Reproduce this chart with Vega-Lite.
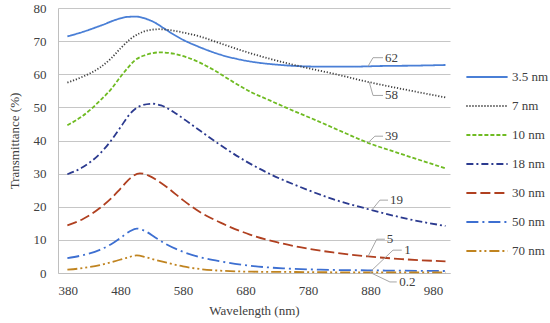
{
  "$schema": "https://vega.github.io/schema/vega-lite/v6.json",
  "width": 392,
  "height": 265,
  "autosize": "none",
  "padding": {"left": 58, "top": 8, "right": 100, "bottom": 50},
  "background": "white",
  "config": {
    "view": {"stroke": null},
    "font": "Liberation Serif, Times New Roman, serif",
    "axis": {"labelFont": "Liberation Serif, Times New Roman, serif", "titleFont": "Liberation Serif, Times New Roman, serif", "labelFontSize": 13, "titleFontSize": 13, "labelColor": "#404040", "titleColor": "#404040", "titleFontWeight": "normal", "tickSize": 0, "domainColor": "#bfbfbf", "labelOverlap": false},
    "legend": {"orient": "none", "legendX": 407, "legendY": 47, "symbolType": "stroke", "symbolSize": 1700, "symbolStrokeWidth": 2, "labelFont": "Liberation Serif, Times New Roman, serif", "labelFontSize": 13, "labelColor": "#404040", "rowPadding": -10, "labelOffset": 3}
  },
  "datasets": {
    "curves": [
      {"s": "3.5 nm", "wl": 395, "t": 71.4}, {"s": "3.5 nm", "wl": 420, "t": 72.8}, {"s": "3.5 nm", "wl": 450, "t": 74.8}, {"s": "3.5 nm", "wl": 475, "t": 76.6}, {"s": "3.5 nm", "wl": 490, "t": 77.3}, {"s": "3.5 nm", "wl": 505, "t": 77.4}, {"s": "3.5 nm", "wl": 520, "t": 76.8}, {"s": "3.5 nm", "wl": 535, "t": 75.6}, {"s": "3.5 nm", "wl": 550, "t": 73.8}, {"s": "3.5 nm", "wl": 565, "t": 72.0}, {"s": "3.5 nm", "wl": 580, "t": 70.4}, {"s": "3.5 nm", "wl": 600, "t": 68.7}, {"s": "3.5 nm", "wl": 620, "t": 67.2}, {"s": "3.5 nm", "wl": 640, "t": 65.9}, {"s": "3.5 nm", "wl": 660, "t": 64.9}, {"s": "3.5 nm", "wl": 680, "t": 64.1}, {"s": "3.5 nm", "wl": 700, "t": 63.5}, {"s": "3.5 nm", "wl": 730, "t": 62.9}, {"s": "3.5 nm", "wl": 760, "t": 62.5}, {"s": "3.5 nm", "wl": 800, "t": 62.3}, {"s": "3.5 nm", "wl": 850, "t": 62.3}, {"s": "3.5 nm", "wl": 900, "t": 62.5}, {"s": "3.5 nm", "wl": 950, "t": 62.6}, {"s": "3.5 nm", "wl": 1000, "t": 62.8},
      {"s": "7 nm", "wl": 395, "t": 57.5}, {"s": "7 nm", "wl": 420, "t": 59.3}, {"s": "7 nm", "wl": 447, "t": 62}, {"s": "7 nm", "wl": 465, "t": 64.8}, {"s": "7 nm", "wl": 480, "t": 67.8}, {"s": "7 nm", "wl": 495, "t": 70.5}, {"s": "7 nm", "wl": 510, "t": 72.3}, {"s": "7 nm", "wl": 525, "t": 73.3}, {"s": "7 nm", "wl": 543, "t": 73.6}, {"s": "7 nm", "wl": 560, "t": 73.3}, {"s": "7 nm", "wl": 580, "t": 72.6}, {"s": "7 nm", "wl": 607, "t": 71.4}, {"s": "7 nm", "wl": 640, "t": 69.3}, {"s": "7 nm", "wl": 680, "t": 66.8}, {"s": "7 nm", "wl": 720, "t": 64.6}, {"s": "7 nm", "wl": 767, "t": 62.4}, {"s": "7 nm", "wl": 820, "t": 60.2}, {"s": "7 nm", "wl": 878, "t": 57.6}, {"s": "7 nm", "wl": 940, "t": 55.2}, {"s": "7 nm", "wl": 1000, "t": 53},
      {"s": "10 nm", "wl": 395, "t": 44.6}, {"s": "10 nm", "wl": 420, "t": 47.5}, {"s": "10 nm", "wl": 447, "t": 52}, {"s": "10 nm", "wl": 465, "t": 55.5}, {"s": "10 nm", "wl": 479, "t": 59}, {"s": "10 nm", "wl": 492, "t": 62}, {"s": "10 nm", "wl": 503, "t": 64.2}, {"s": "10 nm", "wl": 520, "t": 65.8}, {"s": "10 nm", "wl": 543, "t": 66.6}, {"s": "10 nm", "wl": 565, "t": 66.2}, {"s": "10 nm", "wl": 585, "t": 65.2}, {"s": "10 nm", "wl": 607, "t": 63.5}, {"s": "10 nm", "wl": 630, "t": 61.2}, {"s": "10 nm", "wl": 660, "t": 57.7}, {"s": "10 nm", "wl": 690, "t": 54.5}, {"s": "10 nm", "wl": 714, "t": 52.5}, {"s": "10 nm", "wl": 750, "t": 49.5}, {"s": "10 nm", "wl": 794, "t": 46}, {"s": "10 nm", "wl": 840, "t": 42.2}, {"s": "10 nm", "wl": 876, "t": 39.3}, {"s": "10 nm", "wl": 920, "t": 36.5}, {"s": "10 nm", "wl": 954, "t": 34.4}, {"s": "10 nm", "wl": 1000, "t": 31.6},
      {"s": "18 nm", "wl": 395, "t": 29.8}, {"s": "18 nm", "wl": 420, "t": 32}, {"s": "18 nm", "wl": 447, "t": 36}, {"s": "18 nm", "wl": 465, "t": 40}, {"s": "18 nm", "wl": 480, "t": 44}, {"s": "18 nm", "wl": 495, "t": 48}, {"s": "18 nm", "wl": 510, "t": 50.3}, {"s": "18 nm", "wl": 530, "t": 51.1}, {"s": "18 nm", "wl": 545, "t": 50.6}, {"s": "18 nm", "wl": 565, "t": 48.6}, {"s": "18 nm", "wl": 585, "t": 46}, {"s": "18 nm", "wl": 607, "t": 43}, {"s": "18 nm", "wl": 640, "t": 38.6}, {"s": "18 nm", "wl": 680, "t": 33.8}, {"s": "18 nm", "wl": 720, "t": 29.8}, {"s": "18 nm", "wl": 767, "t": 26}, {"s": "18 nm", "wl": 820, "t": 22.3}, {"s": "18 nm", "wl": 882, "t": 19}, {"s": "18 nm", "wl": 940, "t": 16.3}, {"s": "18 nm", "wl": 1000, "t": 14.2},
      {"s": "30 nm", "wl": 395, "t": 14.4}, {"s": "30 nm", "wl": 420, "t": 16.3}, {"s": "30 nm", "wl": 447, "t": 19.6}, {"s": "30 nm", "wl": 465, "t": 22.5}, {"s": "30 nm", "wl": 480, "t": 25.5}, {"s": "30 nm", "wl": 495, "t": 28.5}, {"s": "30 nm", "wl": 511, "t": 30.1}, {"s": "30 nm", "wl": 525, "t": 29.4}, {"s": "30 nm", "wl": 540, "t": 27.8}, {"s": "30 nm", "wl": 555, "t": 25.8}, {"s": "30 nm", "wl": 580, "t": 22}, {"s": "30 nm", "wl": 607, "t": 18.4}, {"s": "30 nm", "wl": 640, "t": 15.2}, {"s": "30 nm", "wl": 687, "t": 11.6}, {"s": "30 nm", "wl": 730, "t": 9.3}, {"s": "30 nm", "wl": 767, "t": 7.8}, {"s": "30 nm", "wl": 820, "t": 6.2}, {"s": "30 nm", "wl": 876, "t": 5}, {"s": "30 nm", "wl": 930, "t": 4.2}, {"s": "30 nm", "wl": 1000, "t": 3.5},
      {"s": "50 nm", "wl": 395, "t": 4.5}, {"s": "50 nm", "wl": 420, "t": 5.4}, {"s": "50 nm", "wl": 447, "t": 7}, {"s": "50 nm", "wl": 465, "t": 8.7}, {"s": "50 nm", "wl": 480, "t": 10.6}, {"s": "50 nm", "wl": 495, "t": 12.6}, {"s": "50 nm", "wl": 506, "t": 13.4}, {"s": "50 nm", "wl": 520, "t": 12.6}, {"s": "50 nm", "wl": 535, "t": 10.8}, {"s": "50 nm", "wl": 554, "t": 8.6}, {"s": "50 nm", "wl": 580, "t": 6.4}, {"s": "50 nm", "wl": 607, "t": 4.8}, {"s": "50 nm", "wl": 640, "t": 3.5}, {"s": "50 nm", "wl": 687, "t": 2.2}, {"s": "50 nm", "wl": 740, "t": 1.4}, {"s": "50 nm", "wl": 800, "t": 1.0}, {"s": "50 nm", "wl": 876, "t": 0.8}, {"s": "50 nm", "wl": 1000, "t": 0.6},
      {"s": "70 nm", "wl": 395, "t": 1.0}, {"s": "70 nm", "wl": 420, "t": 1.5}, {"s": "70 nm", "wl": 447, "t": 2.4}, {"s": "70 nm", "wl": 470, "t": 3.5}, {"s": "70 nm", "wl": 490, "t": 4.6}, {"s": "70 nm", "wl": 506, "t": 5.3}, {"s": "70 nm", "wl": 520, "t": 4.8}, {"s": "70 nm", "wl": 535, "t": 4}, {"s": "70 nm", "wl": 554, "t": 3.1}, {"s": "70 nm", "wl": 580, "t": 2}, {"s": "70 nm", "wl": 607, "t": 1.2}, {"s": "70 nm", "wl": 640, "t": 0.7}, {"s": "70 nm", "wl": 690, "t": 0.4}, {"s": "70 nm", "wl": 760, "t": 0.3}, {"s": "70 nm", "wl": 850, "t": 0.2}, {"s": "70 nm", "wl": 1000, "t": 0.2}
    ],
    "leaders": [
      {"id": "62", "k": 1, "wl": 876, "t": 62.4}, {"id": "62", "k": 2, "wl": 884, "t": 65}, {"id": "62", "k": 3, "wl": 900, "t": 65},
      {"id": "58", "k": 1, "wl": 878, "t": 57.6}, {"id": "58", "k": 2, "wl": 884, "t": 53.6}, {"id": "58", "k": 3, "wl": 900, "t": 53.6},
      {"id": "39", "k": 1, "wl": 876, "t": 39.3}, {"id": "39", "k": 2, "wl": 887, "t": 41.3}, {"id": "39", "k": 3, "wl": 900, "t": 41.3},
      {"id": "19", "k": 1, "wl": 882, "t": 19}, {"id": "19", "k": 2, "wl": 895, "t": 22}, {"id": "19", "k": 3, "wl": 908, "t": 22},
      {"id": "5", "k": 1, "wl": 876, "t": 5}, {"id": "5", "k": 2, "wl": 890, "t": 10.2}, {"id": "5", "k": 3, "wl": 903, "t": 10.2},
      {"id": "1", "k": 1, "wl": 882, "t": 0.8}, {"id": "1", "k": 2, "wl": 916, "t": 6.9}, {"id": "1", "k": 3, "wl": 930, "t": 6.9},
      {"id": "0.2", "k": 1, "wl": 879, "t": 0.2}, {"id": "0.2", "k": 2, "wl": 911, "t": -2.7}, {"id": "0.2", "k": 3, "wl": 922, "t": -2.7}
    ],
    "labels": [
      {"label": "62", "wl": 903, "t": 65}, {"label": "58", "wl": 903, "t": 53.6}, {"label": "39", "wl": 903, "t": 41.3}, {"label": "19", "wl": 911, "t": 22}, {"label": "5", "wl": 906, "t": 10.2}, {"label": "1", "wl": 934, "t": 6.9}, {"label": "0.2", "wl": 926, "t": -2.7}
    ]
  },
  "encoding": {
    "x": {"field": "wl", "type": "quantitative", "scale": {"domain": [380, 1007.2], "nice": false, "zero": false}, "axis": {"values": [380, 480, 580, 680, 780, 880, 980], "grid": false, "title": "Wavelength (nm)", "labelPadding": 11, "titlePadding": 7, "labelOverlap": false}},
    "y": {"field": "t", "type": "quantitative", "scale": {"domain": [0, 80], "nice": false}, "axis": {"values": [0, 10, 20, 30, 40, 50, 60, 70, 80], "grid": true, "gridColor": "#c6c6c6", "gridWidth": 1, "gridOpacity": 1, "title": "Transmittance (%)", "labelPadding": 12, "titlePadding": 12, "labelOverlap": false}}
  },
  "layer": [
    {
      "data": {"name": "curves"},
      "mark": {"type": "line", "strokeWidth": 1.8, "interpolate": "monotone"},
      "encoding": {
        "color": {"field": "s", "type": "nominal", "title": null, "scale": {"domain": ["3.5 nm", "7 nm", "10 nm", "18 nm", "30 nm", "50 nm", "70 nm"], "range": ["#4a7fd6", "#404040", "#6fbb22", "#2b3a8f", "#b04020", "#3d6fd1", "#c08420"]}},
        "strokeDash": {"field": "s", "type": "nominal", "title": null, "scale": {"domain": ["3.5 nm", "7 nm", "10 nm", "18 nm", "30 nm", "50 nm", "70 nm"], "range": [[1, 0], [1.2, 1.8], [4, 2], [7, 3, 2, 3], [10, 4], [12, 4, 2, 4], [10, 3, 2, 3, 2, 3]]}}
      }
    },
    {
      "data": {"name": "leaders"},
      "mark": {"type": "line", "color": "#a6a6a6", "strokeWidth": 1},
      "encoding": {
        "detail": {"field": "id"},
        "order": {"field": "k"}
      }
    },
    {
      "data": {"name": "labels"},
      "mark": {"type": "text", "align": "left", "baseline": "middle", "font": "Liberation Serif, Times New Roman, serif", "fontSize": 13, "color": "#404040"},
      "encoding": {
        "text": {"field": "label"}
      }
    }
  ]
}
